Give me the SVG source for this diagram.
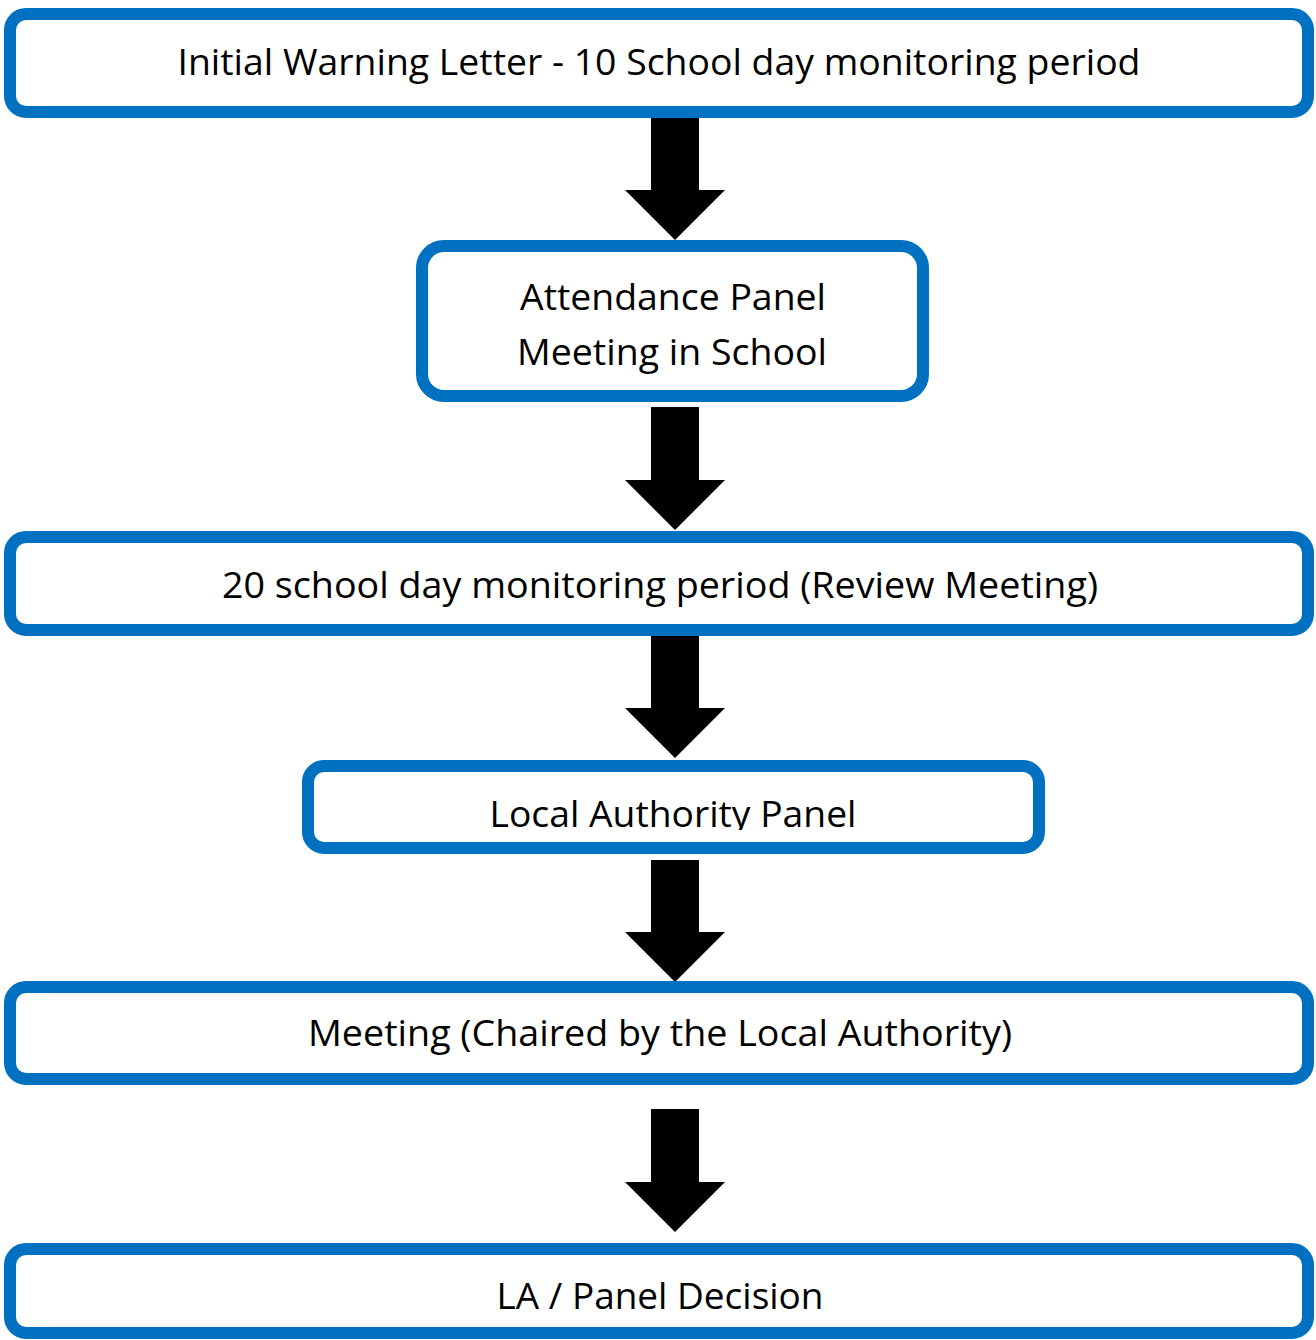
<svg xmlns="http://www.w3.org/2000/svg" width="1316" height="1340" viewBox="0 0 1316 1340">
<defs>
<style>
.box{fill:#fff;stroke:#0070C0;stroke-width:12}
.t{font-family:"Open Sans","Noto Sans","Liberation Sans",sans-serif;font-size:37px;fill:#000;text-anchor:middle}
.arr{fill:#000}
</style>
<clipPath id="clip4"><rect x="314" y="772" width="719" height="58"/></clipPath>
</defs>
<rect width="1316" height="1340" fill="#fff"/>
<g id="connectors">
<path class="arr" d="M651,118 H699 V190 H725 L675,240 L625,190 H651 Z"/>
<path class="arr" d="M651,407 H699 V480 H725 L675,530 L625,480 H651 Z"/>
<path class="arr" d="M651,636 H699 V708 H725 L675,758 L625,708 H651 Z"/>
<path class="arr" d="M651,860 H699 V932 H725 L675,982 L625,932 H651 Z"/>
<path class="arr" d="M651,1109 H699 V1182 H725 L675,1232 L625,1182 H651 Z"/>
</g>
<g id="node1">
<rect class="box" x="10" y="14" width="1298" height="98" rx="16"/>
<text class="t" x="659" y="75" textLength="963" lengthAdjust="spacingAndGlyphs">Initial Warning Letter - 10 School day monitoring period</text>
</g>
<g id="node2">
<rect class="box" x="422" y="246" width="501" height="150" rx="22"/>
<text class="t" x="673" y="310" textLength="306" lengthAdjust="spacingAndGlyphs">Attendance Panel</text>
<text class="t" x="672" y="365" textLength="310" lengthAdjust="spacingAndGlyphs">Meeting in School</text>
</g>
<g id="node3">
<rect class="box" x="10" y="537" width="1298" height="93" rx="16"/>
<text class="t" x="660" y="598" textLength="876" lengthAdjust="spacingAndGlyphs">20 school day monitoring period (Review Meeting)</text>
</g>
<g id="node4">
<rect class="box" x="308" y="766" width="731" height="82" rx="16"/>
<text class="t" x="673" y="827" textLength="367" lengthAdjust="spacingAndGlyphs" clip-path="url(#clip4)">Local Authority Panel</text>
</g>
<g id="node5">
<rect class="box" x="10" y="987" width="1298" height="92" rx="16"/>
<text class="t" x="660" y="1046" textLength="704" lengthAdjust="spacingAndGlyphs">Meeting (Chaired by the Local Authority)</text>
</g>
<g id="node6">
<rect class="box" x="10" y="1249" width="1298" height="84" rx="16"/>
<text class="t" x="660" y="1309" textLength="327" lengthAdjust="spacingAndGlyphs">LA / Panel Decision</text>
</g>
</svg>
